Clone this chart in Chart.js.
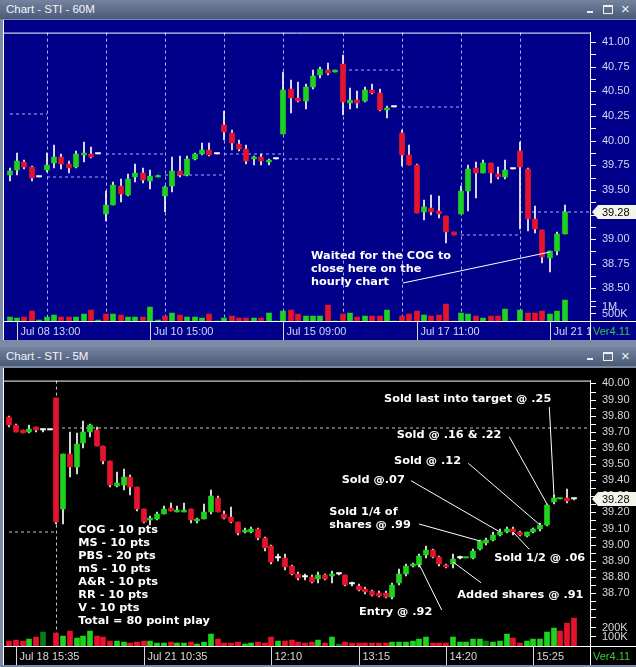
<!DOCTYPE html>
<html>
<head>
<meta charset="utf-8">
<title>Chart - STI</title>
<script src="https://cdn.jsdelivr.net/npm/chart.js@4.4.1/dist/chart.umd.min.js"></script>
<style>
  body { margin: 0; width: 636px; height: 667px; overflow: hidden; position: relative; background: #7b8aa5; font-family: "Liberation Sans", Arial, sans-serif; }
  .title { position: absolute; left: 0; width: 636px; height: 19px; background: linear-gradient(#74849f, #4a5a77); color: #f2f4f8; font-size: 11.5px; }
  .title .t { position: absolute; left: 6px; top: 3px; }
  .title .mn { position: absolute; left: 587px; top: 11px; width: 6px; height: 2px; background: #eef0f6; }
  .title .mx { position: absolute; left: 603px; top: 5px; width: 8px; height: 6px; border: 1px solid #eef0f6; border-top-width: 2px; }
  .title .cl { position: absolute; left: 621px; top: 0px; font-size: 15px; color: #eef0f6; }
  canvas { position: absolute; left: 3px; }
  #c1 { top: 20px; background: #00008a; }
  #c2 { top: 368px; background: #000000; }
</style>
</head>
<body>
<div class="title" style="top:0"><span class="t">Chart - STI - 60M</span><span class="mn"></span><span class="mx"></span><span class="cl">×</span></div>
<canvas id="c1" width="633" height="320"></canvas>
<div class="title" style="top:347px"><span class="t">Chart - STI - 5M</span><span class="mn"></span><span class="mx"></span><span class="cl">×</span></div>
<canvas id="c2" width="633" height="297"></canvas>
<script>
// ---------- 60 minute bars, Jul 08 12:00 .. Jul 21 15:00 ----------
const topDays = ['Jul 08', 'Jul 09', 'Jul 10', 'Jul 11', 'Jul 14', 'Jul 15', 'Jul 16', 'Jul 17', 'Jul 18', 'Jul 21'];
const topHours = ['09:00', '10:00', '11:00', '12:00', '13:00', '14:00', '15:00', '16:00'];
const topFirstBar = 'Jul 08 12:00';
const topLastBar = 'Jul 21 15:00';

const topOpen = [39.65, 39.70, 39.78, 39.73, 39.63, 39.70, 39.77, 39.83, 39.76, 39.73, 39.85, 39.86, 39.86,
  39.26, 39.35, 39.54, 39.45, 39.63, 39.67, 39.59, 39.63,
  39.44, 39.54, 39.69, 39.65, 39.81, 39.86, 39.91, 39.86,
  40.16, 40.08, 39.97, 39.92, 39.81, 39.83, 39.78, 39.81,
  40.07, 40.52, 40.43, 40.40, 40.54, 40.67, 40.72, 40.70,
  40.78, 40.38, 40.41, 40.40, 40.51, 40.48, 40.31, 40.34,
  40.08, 39.85, 39.75, 39.28, 39.32, 39.29, 39.24, 39.07,
  39.26, 39.49, 39.72, 39.67, 39.77, 39.66, 39.63, 39.71,
  39.90, 39.71, 39.20, 39.09, 38.81, 38.88, 39.05];
const topHigh = [39.72, 39.88, 39.80, 39.74, 39.63, 39.88, 39.96, 39.86, 39.79, 39.90, 39.99, 39.94, 39.86,
  39.49, 39.58, 39.61, 39.66, 39.76, 39.72, 39.70, 39.65,
  39.54, 39.83, 39.84, 39.84, 39.87, 39.98, 39.98, 39.86,
  40.30, 40.11, 40.01, 39.96, 39.84, 39.86, 39.81, 39.81,
  40.70, 40.62, 40.60, 40.58, 40.72, 40.75, 40.79, 40.72,
  40.87, 40.53, 40.50, 40.55, 40.58, 40.52, 40.35, 40.34,
  40.11, 39.96, 39.76, 39.40, 39.45, 39.44, 39.24, 39.07,
  39.54, 39.75, 39.78, 39.80, 39.77, 39.73, 39.80, 39.71,
  39.99, 39.72, 39.34, 39.09, 38.88, 39.07, 39.35];
const topLow = [39.59, 39.65, 39.71, 39.59, 39.63, 39.68, 39.72, 39.71, 39.67, 39.72, 39.78, 39.82, 39.86,
  39.18, 39.35, 39.38, 39.44, 39.58, 39.57, 39.51, 39.63,
  39.28, 39.48, 39.63, 39.64, 39.80, 39.85, 39.84, 39.86,
  40.01, 39.91, 39.90, 39.76, 39.75, 39.75, 39.75, 39.81,
  40.07, 40.28, 40.39, 40.32, 40.52, 40.64, 40.67, 40.70,
  40.26, 40.32, 40.33, 40.39, 40.47, 40.30, 40.23, 40.34,
  39.74, 39.75, 39.27, 39.19, 39.25, 39.22, 38.96, 39.04,
  39.26, 39.29, 39.42, 39.67, 39.57, 39.61, 39.61, 39.71,
  39.10, 39.08, 39.06, 38.76, 38.67, 38.84, 39.05];
const topClose = [39.69, 39.79, 39.73, 39.62, 39.63, 39.75, 39.83, 39.76, 39.72, 39.86, 39.87, 39.83, 39.86,
  39.35, 39.55, 39.46, 39.61, 39.67, 39.60, 39.64, 39.645,
  39.53, 39.69, 39.65, 39.81, 39.86, 39.91, 39.85, 39.86,
  40.09, 39.98, 39.92, 39.79, 39.83, 39.79, 39.80, 39.81,
  40.51, 40.43, 40.40, 40.54, 40.66, 40.73, 40.69, 40.72,
  40.39, 40.41, 40.38, 40.51, 40.48, 40.31, 40.33, 40.34,
  39.85, 39.75, 39.27, 39.33, 39.28, 39.26, 39.07, 39.04,
  39.49, 39.71, 39.67, 39.77, 39.67, 39.63, 39.70, 39.71,
  39.73, 39.20, 39.10, 38.82, 38.88, 39.05, 39.28];
// volume in thousands of shares
const topVolume = [270, 190, 250, 625, 40, 270, 375, 270, 250, 270, 440, 750, 40,
  440, 440, 375, 250, 250, 250, 940, 40,
  330, 520, 395, 230, 250, 190, 455, 30,
  190, 310, 190, 205, 190, 190, 500, 30,
  625, 750, 480, 310, 310, 330, 1020, 30,
  455, 500, 270, 330, 330, 310, 750, 30,
  310, 480, 670, 375, 330, 375, 1105, 30,
  545, 480, 295, 190, 330, 330, 810, 30,
  690, 545, 500, 625, 440, 625, 1375];
// dashed reference level for each session (previous close, last price on the open day)
const topLevels = [40.27, 39.63, 39.86, 39.65, 39.86, 39.81, 40.72, 40.34, 39.04, 39.28];
const topLastPrice = 39.28;
const topPriceLabels = ['41.00', '40.75', '40.50', '40.25', '40.00', '39.75', '39.50', '39.25', '39.00', '38.75', '38.50'];
const topVolTicks = [1000, 500];
const topVolText = ['1M', '500K'];
const topTickAt = ['Jul 08 13:00', 'Jul 10 15:00', 'Jul 15 09:00', 'Jul 17 11:00', 'Jul 21 13:00'];
const topNoteText = [['Waited for the COG to', 'close here on the', 'hourly chart']];
const topNoteAt = [[73, 38.87]];

// ---------- 5 minute bars, Jul 18 15:30 .. Jul 21 15:55 ----------
const botSessions = [['Jul 18', '15:30', '16:00'], ['Jul 21', '09:30', '15:55']];
const botOpen = [39.79, 39.74, 39.71, 39.70, 39.73, 39.71, 39.71, 39.91, 39.22, 39.56,
  39.48, 39.63, 39.70, 39.71, 39.61, 39.52, 39.365, 39.37, 39.42, 39.36,
  39.22, 39.155, 39.16, 39.19, 39.23, 39.205, 39.205, 39.22, 39.145, 39.16,
  39.20, 39.29, 39.19, 39.17, 39.14, 39.08, 39.08, 39.10, 39.04, 38.99,
  38.92, 38.92, 38.865, 38.82, 38.80, 38.80, 38.785, 38.81, 38.805, 38.815,
  38.81, 38.755, 38.745, 38.725, 38.71, 38.70, 38.70, 38.675, 38.76, 38.82,
  38.865, 38.875, 38.935, 38.965, 38.925, 38.875, 38.88, 38.92, 38.915, 38.915,
  38.97, 39.01, 39.03, 39.06, 39.08, 39.10, 39.08, 39.055, 39.08, 39.095,
  39.12, 39.265, 39.285, 39.29, 39.28];
const botHigh = [39.80, 39.75, 39.71, 39.74, 39.73, 39.72, 39.71, 39.91, 39.56, 39.70,
  39.69, 39.77, 39.75, 39.73, 39.61, 39.52, 39.45, 39.47, 39.43, 39.36,
  39.22, 39.18, 39.20, 39.24, 39.26, 39.24, 39.26, 39.22, 39.165, 39.255,
  39.34, 39.30, 39.21, 39.235, 39.14, 39.105, 39.11, 39.105, 39.05, 39.00,
  38.94, 38.94, 38.875, 38.83, 38.815, 38.81, 38.83, 38.82, 38.835, 38.82,
  38.81, 38.77, 38.755, 38.735, 38.72, 38.71, 38.71, 38.76, 38.85, 38.88,
  38.885, 38.94, 38.99, 38.97, 38.93, 38.88, 38.94, 38.93, 38.92, 38.97,
  39.03, 39.04, 39.08, 39.095, 39.11, 39.11, 39.085, 39.08, 39.105, 39.135,
  39.255, 39.305, 39.29, 39.345, 39.285];
const botLow = [39.73, 39.70, 39.69, 39.69, 39.70, 39.70, 39.71, 39.13, 39.13, 39.42,
  39.44, 39.60, 39.67, 39.61, 39.50, 39.36, 39.36, 39.34, 39.31, 39.21,
  39.135, 39.12, 39.15, 39.19, 39.21, 39.20, 39.20, 39.135, 39.135, 39.16,
  39.19, 39.20, 39.16, 39.135, 39.06, 39.07, 39.07, 39.03, 38.96, 38.88,
  38.90, 38.84, 38.81, 38.78, 38.78, 38.76, 38.76, 38.78, 38.76, 38.81,
  38.745, 38.745, 38.71, 38.695, 38.68, 38.675, 38.667, 38.665, 38.75, 38.805,
  38.86, 38.86, 38.92, 38.92, 38.87, 38.855, 38.855, 38.91, 38.915, 38.91,
  38.965, 39.00, 39.02, 39.055, 39.075, 39.06, 39.055, 39.05, 39.075, 39.085,
  39.115, 39.255, 39.285, 39.26, 39.275];
const botClose = [39.74, 39.70, 39.69, 39.72, 39.71, 39.71, 39.71, 39.14, 39.56, 39.48,
  39.625, 39.70, 39.74, 39.61, 39.52, 39.37, 39.38, 39.42, 39.36, 39.22,
  39.14, 39.165, 39.19, 39.22, 39.21, 39.215, 39.215, 39.15, 39.16, 39.20,
  39.30, 39.20, 39.165, 39.14, 39.07, 39.09, 39.10, 39.04, 38.98, 38.89,
  38.92, 38.86, 38.82, 38.79, 38.80, 38.77, 38.81, 38.785, 38.815, 38.815,
  38.75, 38.755, 38.72, 38.705, 38.69, 38.68, 38.675, 38.75, 38.82, 38.87,
  38.88, 38.93, 38.965, 38.925, 38.88, 38.86, 38.91, 38.92, 38.92, 38.96,
  39.02, 39.03, 39.06, 39.08, 39.10, 39.08, 39.06, 39.08, 39.095, 39.12,
  39.245, 39.29, 39.29, 39.27, 39.28];
const botVolume = [57, 67, 57, 77, 97, 147, 5, 133, 107, 157,
  80, 107, 157, 107, 90, 57, 57, 47, 33, 40,
  50, 57, 33, 27, 43, 33, 33, 40, 23, 43,
  130, 73, 33, 33, 40, 23, 33, 40, 33, 97,
  50, 50, 63, 43, 33, 40, 63, 33, 97, 17,
  43, 33, 30, 30, 33, 30, 30, 43, 43, 43,
  50, 77, 90, 33, 33, 33, 90, 43, 43, 77,
  77, 50, 43, 50, 123, 83, 33, 57, 77, 77,
  143, 187, 160, 237, 293];
// u = uptick volume, d = downtick, n = unchanged
const botVolSide = ('dddudnddud' + 'uuuddduudd' + 'duuuduuduu' + 'udddduuddd' + 'udddddudun' +
  'ddddddduuu' + 'uuuddduuuu' + 'unuuudduuu' + 'uuddd').split('');
const botLevels = [39.08, 39.725];
const botLastPrice = 39.28;
const botPriceLabels = ['40.00', '39.90', '39.80', '39.70', '39.60', '39.50', '39.40', '39.30', '39.20',
  '39.10', '39.00', '38.90', '38.80', '38.70'];
const botVolTicks = [200, 100];
const botVolText = ['200K', '100K'];
const botTickAt = ['Jul 18 15:35', 'Jul 21 10:35', 'Jul 21 12:10', 'Jul 21 13:15', 'Jul 21 14:20', 'Jul 21 15:25'];
const botNoteText = [
  ['Sold last into target @ .25'],
  ['Sold @ .16 & .22'],
  ['Sold @ .12'],
  ['Sold @.07'],
  ['Sold 1/4 of', 'shares @ .99'],
  ['Sold 1/2 @ .06'],
  ['Added shares @ .91'],
  ['Entry @ .92'],
  ['COG - 10 pts', 'MS - 10 pts', 'PBS - 20 pts', 'mS - 10 pts', 'A&R - 10 pts', 'RR - 10 pts', 'V - 10 pts', 'Total = 80 point play']
];
const botNoteAt = [[81, 39.30], [80, 39.25], [79, 39.12], [73, 39.08], [70, 39.02], [75, 39.08], [66, 38.89], [61, 38.88], null];

const UP = '#1ed21e', DOWN = '#e5132b', DOJI = '#ffffff', FLAT = '#0c7a18';

const topTimes = [];
topDays.forEach(d => topHours.forEach(h => topTimes.push(d + ' ' + h)));
topTimes.splice(0, topTimes.indexOf(topFirstBar));
topTimes.length = topTimes.indexOf(topLastBar) + 1;

function fiveMinBars(day, from, to) {
  const out = [];
  let [h, m] = from.split(':').map(Number);
  const [th, tm] = to.split(':').map(Number);
  while (h * 60 + m <= th * 60 + tm) {
    out.push(day + ' ' + String(h).padStart(2, '0') + ':' + String(m).padStart(2, '0'));
    m += 5;
    if (m >= 60) { m -= 60; h++; }
  }
  return out;
}
const botTimes = [];
botSessions.forEach(s => botTimes.push(...fiveMinBars(s[0], s[1], s[2])));

const topVolSide = topClose.map((c, i) => (i === 0 ? c >= topOpen[i] : c >= topClose[i - 1]) ? 'u' : 'd');

function priceTicks(labels, below) {
  const v = labels.map(Number);
  const step = (v[0] - v[1]) / 2;
  const out = [];
  for (let p = v[0]; p >= v[v.length - 1] - below * step - 1e-9; p -= step) out.push(+p.toFixed(4));
  return out;
}

function decor(S, L, sessions) {
  return {
    id: 'decor',
    beforeDatasetsDraw(chart) {
      const { ctx, chartArea: a } = chart, x = chart.scales.x;
      ctx.save();
      ctx.strokeStyle = L.dash;
      ctx.lineWidth = 1;
      ctx.setLineDash([3, 3]);
      sessions.slice(1).forEach(i => {
        const px = Math.round(x.getPixelForValue(i)) + 0.5;
        ctx.beginPath(); ctx.moveTo(px, a.top); ctx.lineTo(px, a.bottom); ctx.stroke();
      });
      ctx.restore();
    },
    afterDatasetsDraw(chart) {
      const { ctx } = chart, x = chart.scales.x, y = chart.scales.y;
      ctx.save();
      ctx.font = 'bold 11.3px "DejaVu Sans"';
      ctx.fillStyle = '#ffffff';
      ctx.strokeStyle = '#ffffff';
      ctx.lineWidth = 1;
      ctx.textBaseline = 'middle';
      S.noteText.forEach((lines, k) => {
        const pos = L.notePos[k];
        const at = S.noteAt[k];
        if (at) {
          ctx.beginPath();
          ctx.moveTo(pos.from[0], pos.from[1]);
          ctx.lineTo(x.getPixelForValue(at[0]), y.getPixelForValue(at[1]));
          ctx.stroke();
        }
        lines.forEach((t, j) => ctx.fillText(t, pos.x, pos.y + j * (pos.gap || 13)));
      });
      ctx.restore();
    },
    afterDraw(chart) {
      const { ctx, chartArea: a, width: W, height: H } = chart;
      const x = chart.scales.x, y = chart.scales.y, vol = chart.scales.vol;
      ctx.save();
      ctx.strokeStyle = '#ffffff';
      ctx.lineWidth = 1;
      ctx.beginPath();
      ctx.moveTo(0, a.top + 0.5); ctx.lineTo(a.right, a.top + 0.5);
      ctx.moveTo(0.5, 0); ctx.lineTo(0.5, H);
      ctx.moveTo(0, a.bottom + 0.5); ctx.lineTo(W, a.bottom + 0.5);
      ctx.moveTo(a.right + 0.5, a.top); ctx.lineTo(a.right + 0.5, H);
      ctx.stroke();

      // volume scale
      ctx.font = '11px "Liberation Sans"';
      ctx.fillStyle = L.text;
      ctx.textBaseline = 'middle';
      S.volTicks.forEach((v, k) => {
        const py = Math.round(vol.getPixelForValue(v)) + 0.5;
        ctx.beginPath(); ctx.moveTo(a.right, py); ctx.lineTo(a.right + 6, py); ctx.stroke();
        ctx.fillText(S.volText[k], a.right + 12, py);
      });

      // last price tag
      const ty = y.getPixelForValue(S.last);
      ctx.fillStyle = '#f4f4ea';
      ctx.beginPath();
      ctx.moveTo(a.right + 2, ty);
      ctx.lineTo(a.right + 8, ty - 7);
      ctx.lineTo(W, ty - 7);
      ctx.lineTo(W, ty + 7);
      ctx.lineTo(a.right + 8, ty + 7);
      ctx.closePath();
      ctx.fill();
      ctx.fillStyle = '#000000';
      ctx.fillText(S.last.toFixed(2), a.right + 12, ty + 0.5);

      ctx.fillStyle = '#3cc83c';
      ctx.fillText('Ver4.11', a.right + 3, (a.bottom + H) / 2 + 1);

      // time axis
      ctx.beginPath(); ctx.rect(0, a.bottom, a.right, H - a.bottom); ctx.clip();
      ctx.fillStyle = L.text;
      ctx.strokeStyle = '#d8d8d8';
      let lastDay = '';
      S.tickAt.forEach(t => {
        const i = S.times.indexOf(t);
        const px = Math.round(x.getPixelForValue(i)) + 0.5;
        ctx.beginPath(); ctx.moveTo(px, a.bottom); ctx.lineTo(px, H); ctx.stroke();
        const day = t.slice(0, 6);
        ctx.fillText(day === lastDay ? t.slice(7) : t, px + 3, (a.bottom + H) / 2 + 1);
        lastDay = day;
      });
      ctx.restore();
    }
  };
}

function candleChart(canvas, S, L) {
  const body = [], wick = [], vols = [], bodyCol = [], volCol = [];
  S.open.forEach((o, i) => {
    const c = S.close[i];
    body.push({ x: i, y: [o, c] });
    wick.push({ x: i, y: [S.low[i], S.high[i]] });
    vols.push({ x: i, y: S.volume[i] });
    bodyCol.push(c > o ? UP : c < o ? DOWN : DOJI);
    volCol.push(S.volSide[i] === 'u' ? UP : S.volSide[i] === 'd' ? DOWN : FLAT);
  });
  const sessions = S.times.map((t, i) => i).filter(i => i === 0 || S.times[i].slice(0, 6) !== S.times[i - 1].slice(0, 6));
  const levelPts = [];
  sessions.forEach((s, k) => {
    const e = k + 1 < sessions.length ? sessions[k + 1] : L.xMax;
    levelPts.push({ x: s, y: S.levels[k] }, { x: e, y: S.levels[k] }, { x: e, y: null });
  });
  const ticks = priceTicks(S.priceLabels, L.minorBelow);

  return new Chart(canvas, {
    type: 'bar',
    data: {
      datasets: [
        { data: body, backgroundColor: bodyCol, barThickness: 5, grouped: false, minBarLength: 1.5, borderWidth: 0, order: 0 },
        { data: wick, backgroundColor: '#ffffff', barThickness: 1, grouped: false, borderWidth: 0, order: 1 },
        { data: vols, yAxisID: 'vol', backgroundColor: volCol, barThickness: 5, grouped: false, borderWidth: 0, order: 2 },
        { type: 'line', data: levelPts, borderColor: L.dash, borderWidth: 1, borderDash: [3, 3], pointRadius: 0, spanGaps: false, order: 3 }
      ]
    },
    options: {
      responsive: false,
      animation: false,
      events: [],
      layout: { padding: { left: 0, right: 0, top: 0, bottom: 19 } },
      plugins: { legend: { display: false }, tooltip: { enabled: false } },
      scales: {
        x: { type: 'linear', display: false, offset: false, alignToPixels: true, min: L.xMin, max: L.xMax },
        y: {
          type: 'linear', position: 'right', min: L.yMin, max: L.yMax, alignToPixels: true,
          afterFit: s => { s.width = 46; },
          afterBuildTicks: s => { s.ticks = ticks.map(v => ({ value: v })); },
          ticks: {
            autoSkip: false, padding: 6, color: L.text,
            font: { family: 'Liberation Sans', size: 11 },
            callback: v => { const t = v.toFixed(2); return S.priceLabels.includes(t) ? t : ''; }
          },
          grid: { drawOnChartArea: false, drawTicks: true, tickLength: 6, color: '#ffffff' },
          border: { display: true, color: '#ffffff' }
        },
        vol: { type: 'linear', display: false, alignToPixels: true, min: 0, max: L.volMax }
      }
    },
    plugins: [decor(S, L, sessions)]
  });
}

candleChart(document.getElementById('c1'), {
  times: topTimes, open: topOpen, high: topHigh, low: topLow, close: topClose,
  volume: topVolume, volSide: topVolSide, levels: topLevels, last: topLastPrice,
  priceLabels: topPriceLabels, volTicks: topVolTicks, volText: topVolText, tickAt: topTickAt,
  noteText: topNoteText, noteAt: topNoteAt
}, {
  xMin: -0.892, xMax: 78.43, yMin: 38.1693, yMax: 41.0973, volMax: 18812, minorBelow: 1,
  dash: '#a9b0ff', text: '#d4d8f4',
  notePos: [{ x: 308, y: 236, gap: 13, from: [400, 263] }]
});

candleChart(document.getElementById('c2'), {
  times: botTimes, open: botOpen, high: botHigh, low: botLow, close: botClose,
  volume: botVolume, volSide: botVolSide, levels: botLevels, last: botLastPrice,
  priceLabels: botPriceLabels, volTicks: botVolTicks, volText: botVolText, tickAt: botTickAt,
  noteText: botNoteText, noteAt: botNoteAt
}, {
  xMin: -0.9375, xMax: 86.41, yMin: 38.3709, yMax: 40.0178, volMax: 2780, minorBelow: 3,
  dash: '#c4c4c4', text: '#d8d8d8',
  notePos: [
    { x: 381, y: 31.3, from: [546.3, 39] },
    { x: 393.7, y: 67.3, from: [506.3, 68.7] },
    { x: 391, y: 92.7, from: [465.3, 95.3] },
    { x: 338.7, y: 112, from: [408, 112.7] },
    { x: 326.3, y: 144, gap: 13.3, from: [416, 156] },
    { x: 491.3, y: 190.3, from: [526.3, 181.3] },
    { x: 454.3, y: 227.3, from: [478, 214.7] },
    { x: 356, y: 244, from: [438.7, 242] },
    { x: 75.3, y: 162.3, gap: 12.9 }
  ]
});
</script>
</body>
</html>
